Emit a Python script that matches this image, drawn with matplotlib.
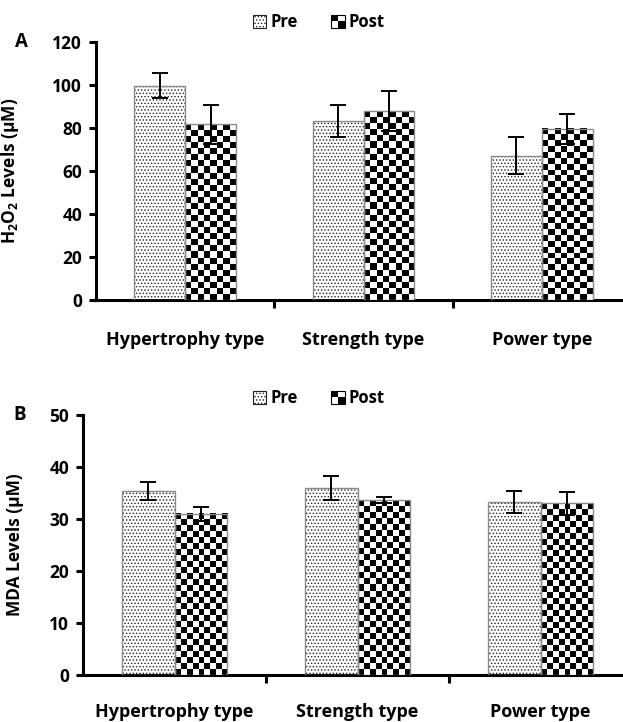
import numpy as np
import matplotlib
matplotlib.use("Agg")
import matplotlib.pyplot as plt
from matplotlib.patches import Patch, Rectangle
from matplotlib.legend_handler import HandlerBase

FONT = 'Open Sans'
plt.rcParams['font.family'] = [FONT, 'DejaVu Sans']
plt.rcParams['font.weight'] = 'bold'
plt.rcParams['mathtext.fontset'] = 'custom'
plt.rcParams['mathtext.rm'] = FONT + ':bold'
plt.rcParams['mathtext.bf'] = FONT + ':bold'
plt.rcParams['mathtext.it'] = FONT + ':bold'
plt.rcParams['hatch.linewidth'] = 0.6

categories = ["Hypertrophy type", "Strength type", "Power type"]
series = ["Pre", "Post"]

h2o2_pre = [99.7, 83.2, 67.2]
h2o2_post = [81.7, 87.9, 79.7]
h2o2_pre_err = [5.7, 7.3, 8.5]
h2o2_post_err = [9.0, 9.2, 7.0]

mda_pre = [35.4, 36.0, 33.3]
mda_post = [31.0, 33.6, 33.0]
mda_pre_err = [1.7, 2.3, 2.1]
mda_post_err = [1.4, 0.6, 2.2]

yticks_a = [0, 20, 40, 60, 80, 100, 120]
yticks_b = [0, 10, 20, 30, 40, 50]

W, H, DPI = 6.23, 7.22, 100
fig = plt.figure(figsize=(W, H), dpi=DPI)

BAR_W = 0.285
CELL = 6.0  # checker cell size in pixels
FS_TICK = 12.5
FS_CAT = 13
FS_LEG = 12


class CheckerHandler(HandlerBase):
    def create_artists(self, legend, orig_handle, xdescent, ydescent,
                       width, height, fontsize, trans):
        x0, y0 = -xdescent, -ydescent
        arts = [Rectangle((x0, y0), width, height, facecolor='white',
                          edgecolor='black', lw=0.8, transform=trans)]
        hw, hh = width / 2, height / 2
        arts.append(Rectangle((x0, y0 + hh), hw, hh, facecolor='black',
                              edgecolor='none', transform=trans))
        arts.append(Rectangle((x0 + hw, y0), hw, hh, facecolor='black',
                              edgecolor='none', transform=trans))
        return arts


def panel(rect, pre, post, pre_err, post_err, ymax, yticks, ylabel,
          letter, letter_xy, ylabel_x, legend_y, xpad):
    ax = fig.add_axes(rect)
    x = np.arange(len(categories))
    ax_w_px = rect[2] * W * DPI
    ax_h_px = rect[3] * H * DPI
    px_per_x = ax_w_px / (len(categories))
    px_per_y = ax_h_px / ymax

    # Pre bars: dotted
    ax.bar(x - BAR_W / 2, pre, BAR_W, color='white', edgecolor='#222222',
           hatch='.....', linewidth=0, zorder=2)
    ax.bar(x - BAR_W / 2, pre, BAR_W, fill=False, edgecolor='#8a8a8a',
           linewidth=1.0, zorder=4)
    # Post bars: checkerboard
    bars = ax.bar(x + BAR_W / 2, post, BAR_W, color='white', linewidth=0,
                  zorder=2)
    for b in bars:
        bx, bw, bh = b.get_x(), b.get_width(), b.get_height()
        nx = max(1, int(round(bw * px_per_x / CELL)))
        ny = max(1, int(round(bh * px_per_y / CELL)))
        ii, jj = np.indices((ny, nx))
        board = ((ii + jj) % 2).astype(float)
        ax.imshow(board, cmap='gray', vmin=0, vmax=1, origin='lower',
                  extent=(bx, bx + bw, 0, bh), interpolation='nearest',
                  aspect='auto', zorder=3)
    ax.bar(x + BAR_W / 2, post, BAR_W, fill=False, edgecolor='#8a8a8a',
           linewidth=1.0, zorder=4)
    ax.set_xlim(-0.5, len(categories) - 0.5)
    ax.set_ylim(0, ymax)

    ax.errorbar(x - BAR_W / 2, pre, yerr=pre_err, fmt='none', ecolor='black',
                elinewidth=1.4, capsize=5.5, capthick=1.4, zorder=5)
    ax.errorbar(x + BAR_W / 2, post, yerr=post_err, fmt='none', ecolor='black',
                elinewidth=1.4, capsize=5.5, capthick=1.4, zorder=5)

    for s in ['top', 'right']:
        ax.spines[s].set_visible(False)
    for s in ['left', 'bottom']:
        ax.spines[s].set_linewidth(2.2)
        ax.spines[s].set_color('black')
    ax.set_yticks(yticks)
    ax.tick_params(axis='y', direction='out', length=5, width=2.2,
                   labelsize=FS_TICK, pad=5)
    ax.set_xticks([i + 0.5 for i in range(len(categories) - 1)])
    ax.set_xticklabels([])
    ax.set_xticks(x, minor=True)
    ax.set_xticklabels(categories, minor=True)
    ax.tick_params(axis='x', which='major', direction='out', length=6,
                   width=2.2)
    ax.tick_params(axis='x', which='minor', length=0, labelsize=FS_CAT,
                   pad=xpad)
    for lab in ax.get_yticklabels() + ax.get_xticklabels(minor=True):
        lab.set_fontweight('bold')

    ax.set_ylabel(ylabel, fontsize=12.5, fontweight='bold')
    ax.yaxis.set_label_coords(ylabel_x, 0.5)

    fig.text(letter_xy[0], letter_xy[1], letter, fontsize=13.5,
             fontweight='bold', ha='center', va='center')

    handles = [Patch(facecolor='white', edgecolor='#222222', hatch='.....',
                     linewidth=0.8, label=series[0]),
               Patch(facecolor='white', edgecolor='black', label=series[1])]
    fig.legend(handles=handles, loc='center', ncol=2, frameon=False,
               bbox_to_anchor=(0.512, legend_y),
               handlelength=0.8, handleheight=0.8, handletextpad=0.25,
               columnspacing=2.0, prop={'weight': 'bold', 'size': FS_LEG},
               handler_map={handles[1]: CheckerHandler()})
    return ax


panel([96 / 623, 1 - 300 / 722, 535 / 623, 258 / 722],
      h2o2_pre, h2o2_post, h2o2_pre_err, h2o2_post_err, 120, yticks_a,
      'H$_2$O$_2$ Levels (\u00b5M)', 'A', (21 / 623, 1 - 42 / 722),
      -0.14, 1 - 22 / 722, 22)

panel([83 / 623, 1 - 675 / 722, 549 / 623, 260 / 722],
      mda_pre, mda_post, mda_pre_err, mda_post_err, 50, yticks_b,
      'MDA Levels (\u00b5M)', 'B', (20 / 623, 1 - 415 / 722),
      -0.108, 1 - 398 / 722, 20)

fig.savefig('out.png', dpi=DPI)
